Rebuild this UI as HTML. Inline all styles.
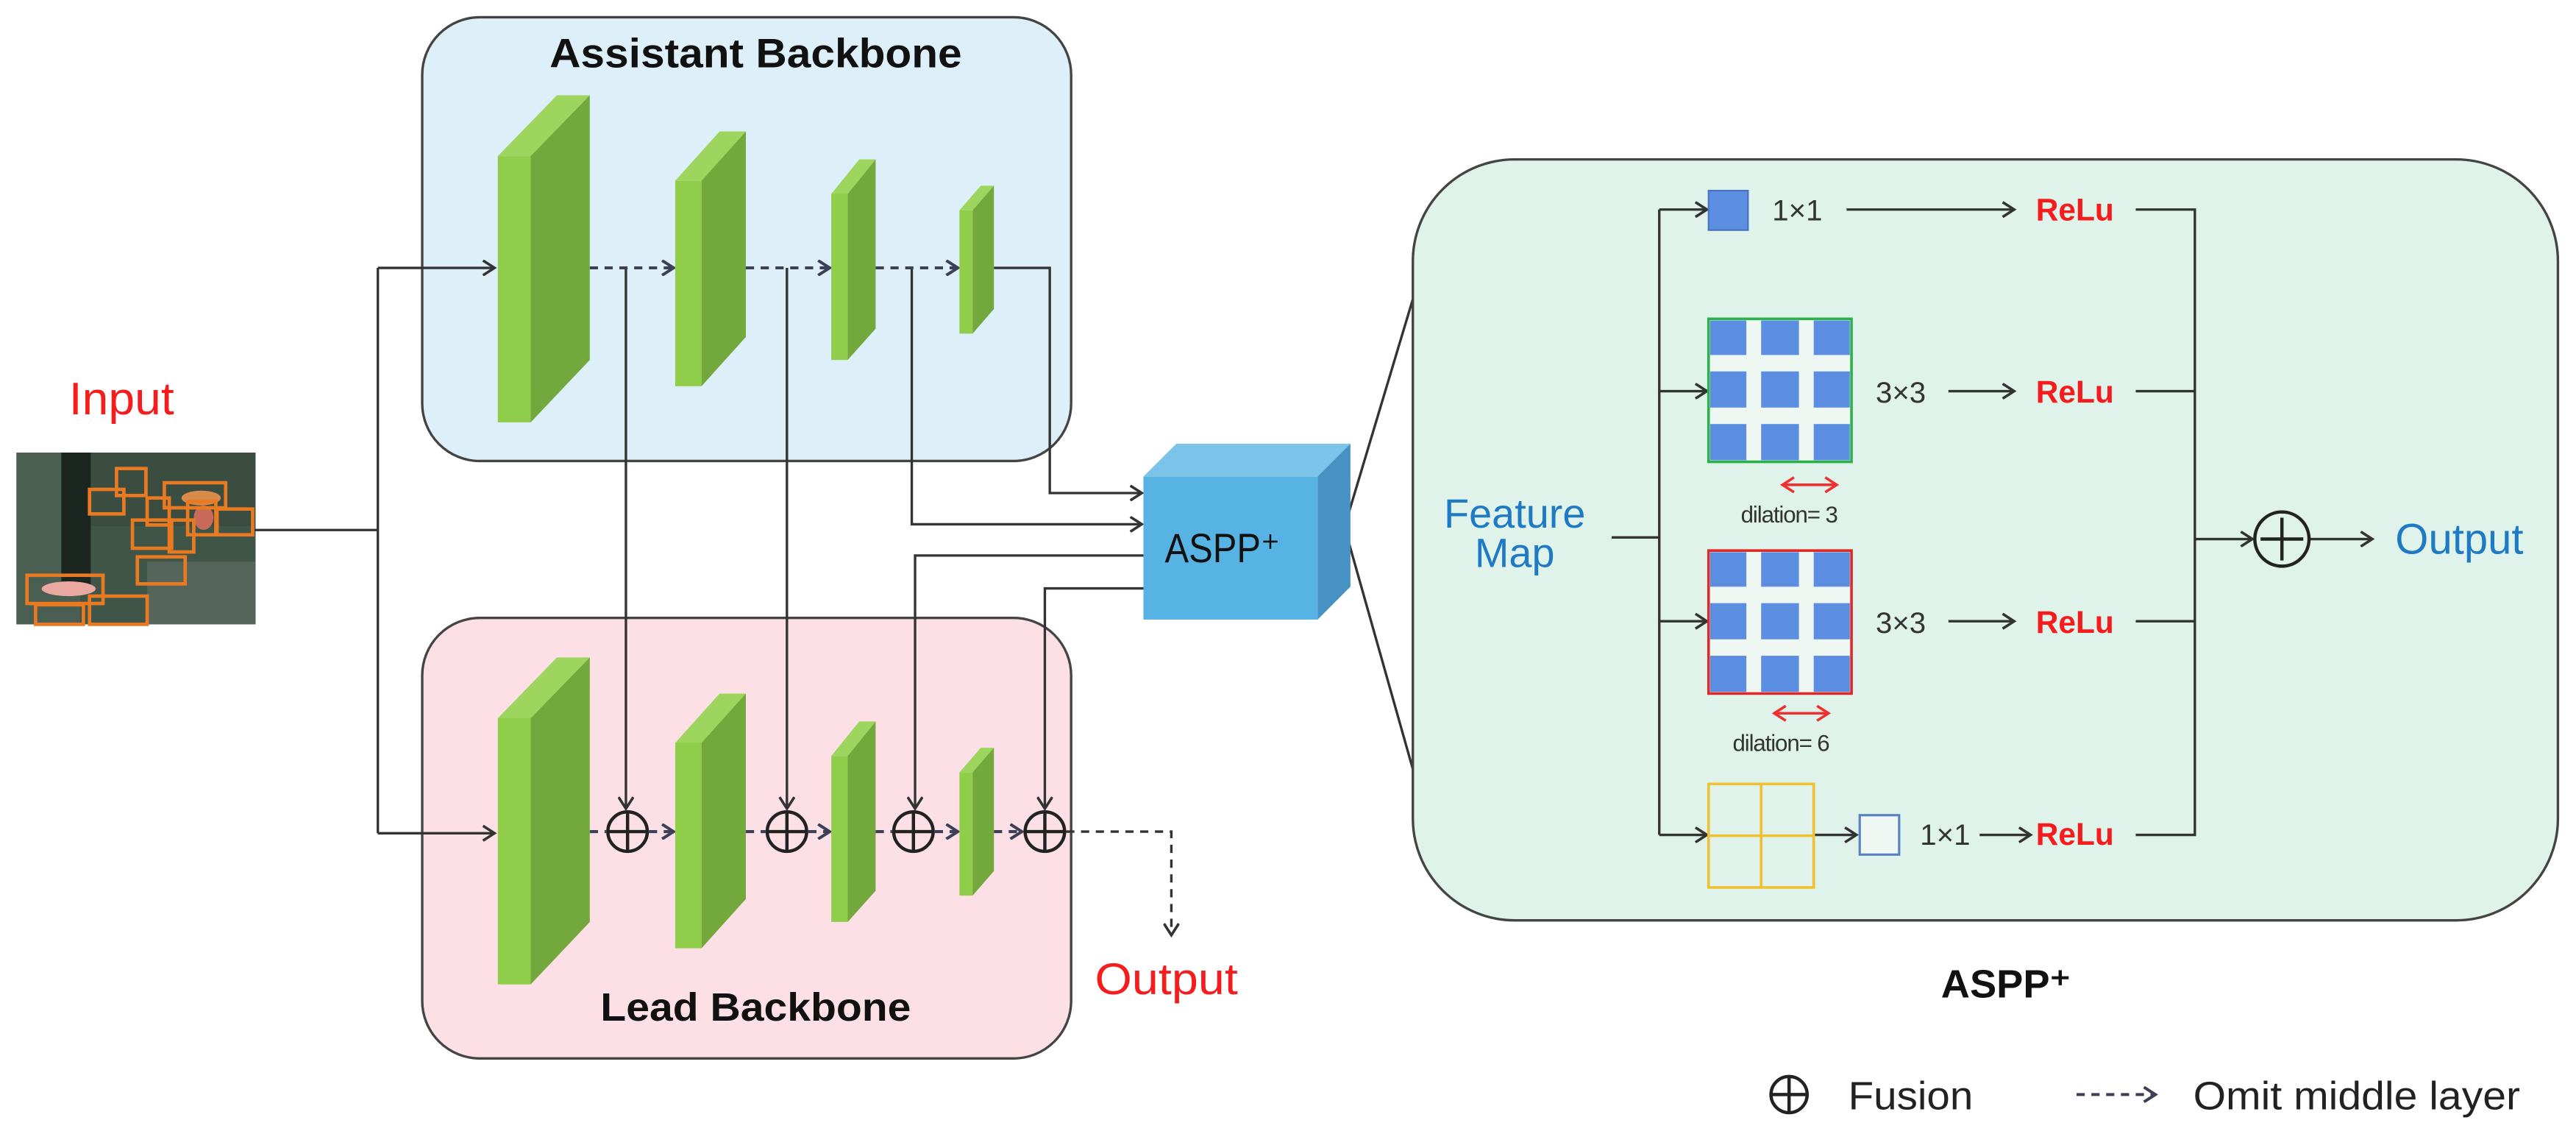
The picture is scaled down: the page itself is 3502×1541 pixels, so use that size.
<!DOCTYPE html>
<html><head><meta charset="utf-8"><style>html,body{margin:0;padding:0;background:#fff}svg{display:block}</style></head>
<body>
<svg width="3502" height="1541" viewBox="0 0 1568 690" preserveAspectRatio="none" xmlns="http://www.w3.org/2000/svg" font-family="Liberation Sans, Arial, sans-serif">
<defs>
<marker id="ah" markerWidth="10" markerHeight="10" refX="8" refY="5" orient="auto" markerUnits="userSpaceOnUse">
<path d="M1,0.5 L8,5 L1,9.5" fill="none" stroke="#333" stroke-width="1.6"/></marker>
<marker id="ahd" markerWidth="10" markerHeight="10" refX="8" refY="5" orient="auto" markerUnits="userSpaceOnUse">
<path d="M1,0.5 L8,5 L1,9.5" fill="none" stroke="#3c3f55" stroke-width="1.8"/></marker>
<marker id="ar" markerWidth="10" markerHeight="10" refX="8" refY="5" orient="auto-start-reverse" markerUnits="userSpaceOnUse">
<path d="M1,0.5 L8,5 L1,9.5" fill="none" stroke="#f03030" stroke-width="1.6"/></marker>
</defs>

<!-- backbone boxes -->
<rect x="257" y="10.5" width="395" height="270" rx="35" fill="#ddeff9" stroke="#444" stroke-width="1.5"/>
<rect x="257" y="376" width="395" height="268" rx="35" fill="#fde0e5" stroke="#444" stroke-width="1.5"/>
<text x="460" y="41" font-size="25" font-weight="bold" text-anchor="middle" textLength="251" lengthAdjust="spacingAndGlyphs" fill="#111">Assistant  Backbone</text>
<text x="460" y="621" font-size="24" font-weight="bold" text-anchor="middle" textLength="189" lengthAdjust="spacingAndGlyphs" fill="#111">Lead Backbone</text>

<!-- input image -->
<text x="74" y="252" font-size="28" fill="#f41c1c" text-anchor="middle" textLength="64" lengthAdjust="spacingAndGlyphs">Input</text>
<g transform="translate(0,259.7) scale(0.1493)">
<rect x="67" y="105" width="975" height="700" fill="#3e5548"/>
<rect x="67" y="105" width="260" height="700" fill="#4a5e52"/>
<rect x="250" y="105" width="120" height="550" fill="#1b2620"/>
<rect x="370" y="105" width="670" height="300" fill="#3a4d40"/>
<rect x="600" y="550" width="440" height="255" fill="#55655c"/>
<ellipse cx="280" cy="660" rx="110" ry="30" fill="#e9a8a0"/>
<ellipse cx="820" cy="290" rx="80" ry="30" fill="#d88a4a"/>
<ellipse cx="830" cy="370" rx="40" ry="50" fill="#c86a5a"/>
<g fill="none" stroke="#ea7a22" stroke-width="14">
<rect x="475" y="170" width="120" height="110"/><rect x="365" y="255" width="140" height="100"/>
<rect x="670" y="228" width="250" height="102"/><rect x="765" y="305" width="115" height="135"/>
<rect x="885" y="335" width="145" height="105"/><rect x="540" y="380" width="160" height="115"/>
<rect x="690" y="380" width="100" height="130"/><rect x="560" y="530" width="195" height="110"/>
<rect x="110" y="605" width="310" height="115"/><rect x="145" y="725" width="195" height="80"/>
<rect x="365" y="690" width="235" height="115"/><rect x="600" y="290" width="90" height="110"/>
</g></g>

<!-- connectors left -->
<g fill="none" stroke="#333" stroke-width="1.5">
<path d="M155,322.5 H230"/>
<path d="M230,163 V507"/>
<path d="M230,163 H301" marker-end="url(#ah)"/>
<path d="M230,507 H301" marker-end="url(#ah)"/>
<!-- verticals to lead -->
<path d="M381,163 V492" marker-end="url(#ah)"/>
<path d="M479,163 V492" marker-end="url(#ah)"/>
<path d="M555,163 V319 H695" marker-end="url(#ah)"/>
<path d="M605,163 H639 V300 H695" marker-end="url(#ah)"/>
<path d="M697,338 H557 V492" marker-end="url(#ah)"/>
<path d="M697,358 H636 V492" marker-end="url(#ah)"/>
<!-- cube to panel -->
<path d="M821,312 L860,182"/>
<path d="M821,330 L860,468"/>
</g>
<!-- dashed connectors -->
<g fill="none" stroke="#3c3f55" stroke-width="1.8" stroke-dasharray="5,4">
<path d="M359,163 H410" marker-end="url(#ahd)"/>
<path d="M454,163 H505" marker-end="url(#ahd)"/>
<path d="M533,163 H583" marker-end="url(#ahd)"/>
<path d="M359,506 H369"/>
<path d="M395,506 H410" marker-end="url(#ahd)"/>
<path d="M454,506 H466"/>
<path d="M492,506 H505" marker-end="url(#ahd)"/>
<path d="M533,506 H543"/>
<path d="M569,506 H583" marker-end="url(#ahd)"/>
<path d="M605,506 H622" marker-end="url(#ahd)"/>
</g>
<g fill="none" stroke="#333" stroke-width="1.5" stroke-dasharray="5,4">
<path d="M649,506 H713 V569" marker-end="url(#ah)"/>
</g>
<!-- fusion circles -->
<g fill="none" stroke="#222" stroke-width="2">
<circle cx="382" cy="506" r="12"/><path d="M370,506 H394 M382,494 V518"/>
<circle cx="479" cy="506" r="12"/><path d="M467,506 H491 M479,494 V518"/>
<circle cx="556" cy="506" r="12"/><path d="M544,506 H568 M556,494 V518"/>
<circle cx="636" cy="506" r="12"/><path d="M624,506 H648 M636,494 V518"/>
</g>
<text x="710" y="605" font-size="27" fill="#f41c1c" text-anchor="middle" textLength="87" lengthAdjust="spacingAndGlyphs">Output</text>

<!-- green blocks -->
<g id="blocks">
<polygon points="303,95 323,95 323,257 303,257" fill="#8fcd4b"/>
<polygon points="303,95 339,58 359,58 323,95" fill="#9ed55e"/>
<polygon points="323,95 359,58 359,219 323,257" fill="#72a83c"/>
<polygon points="411,110 427,110 427,235 411,235" fill="#8fcd4b"/>
<polygon points="411,110 438,80 454,80 427,110" fill="#9ed55e"/>
<polygon points="427,110 454,80 454,205 427,235" fill="#72a83c"/>
<polygon points="506,118 516,118 516,219 506,219" fill="#8fcd4b"/>
<polygon points="506,118 523,97 533,97 516,118" fill="#9ed55e"/>
<polygon points="516,118 533,97 533,200 516,219" fill="#72a83c"/>
<polygon points="584,128 592,128 592,203 584,203" fill="#8fcd4b"/>
<polygon points="584,128 597,113 605,113 592,128" fill="#9ed55e"/>
<polygon points="592,128 605,113 605,188 592,203" fill="#72a83c"/>
</g>
<use href="#blocks" transform="translate(0,342)"/>

<!-- ASPP cube -->
<polygon points="696,290 716,270 822,270 802,290" fill="#7cc3e9"/>
<polygon points="802,290 822,270 822,357 802,377" fill="#4693c3"/>
<rect x="696" y="290" width="106" height="87" fill="#56b3e3"/>
<text x="744" y="342" font-size="25" text-anchor="middle" fill="#111" textLength="70" lengthAdjust="spacingAndGlyphs">ASPP⁺</text>

<!-- ASPP panel -->
<rect x="860" y="97" width="697" height="463" rx="62" fill="#dff3ea" stroke="#444" stroke-width="1.5"/>
<text x="922" y="321" font-size="25" fill="#1f7ac6" text-anchor="middle">Feature</text>
<text x="922" y="345" font-size="25" fill="#1f7ac6" text-anchor="middle">Map</text>
<g fill="none" stroke="#333" stroke-width="1.5">
<path d="M981,327 H1010"/>
<path d="M1010,127.5 V508"/>
<path d="M1010,127.5 H1039" marker-end="url(#ah)"/>
<path d="M1010,238 H1039" marker-end="url(#ah)"/>
<path d="M1010,378 H1039" marker-end="url(#ah)"/>
<path d="M1010,508 H1039" marker-end="url(#ah)"/>
<path d="M1124,127.5 H1226" marker-end="url(#ah)"/>
<path d="M1186,238 H1226" marker-end="url(#ah)"/>
<path d="M1186,378 H1226" marker-end="url(#ah)"/>
<path d="M1104,508 H1130" marker-end="url(#ah)"/>
<path d="M1205,508 H1236" marker-end="url(#ah)"/>
<path d="M1300,127.5 H1336 V508 H1300"/>
<path d="M1300,238 H1336 M1300,378 H1336"/>
<path d="M1336,328 H1371" marker-end="url(#ah)"/>
<path d="M1406,328 H1444" marker-end="url(#ah)"/>
</g>
<circle cx="1389" cy="328" r="16.5" fill="none" stroke="#222" stroke-width="2"/>
<path d="M1376,328 H1402 M1389,315 V341" stroke="#222" stroke-width="2"/>
<text x="1497" y="337" font-size="26" fill="#1f7ac6" text-anchor="middle" textLength="78" lengthAdjust="spacingAndGlyphs">Output</text>

<rect x="1040" y="116" width="24" height="24" fill="#5b8ee0" stroke="#4a74c0" stroke-width="1"/>
<text x="1094" y="134" font-size="18" fill="#333" text-anchor="middle">1×1</text>
<!-- grid 1 -->
<g>
<rect x="1040" y="194" width="87" height="87" fill="#eef7f2" stroke="#2ab24a" stroke-width="1.6"/>
<g fill="#5b8ee0">
<rect x="1041" y="195" width="22" height="21"/><rect x="1072" y="195" width="23" height="21"/><rect x="1104" y="195" width="22" height="21"/>
<rect x="1041" y="226" width="22" height="22"/><rect x="1072" y="226" width="23" height="22"/><rect x="1104" y="226" width="22" height="22"/>
<rect x="1041" y="258" width="22" height="22"/><rect x="1072" y="258" width="23" height="22"/><rect x="1104" y="258" width="22" height="22"/>
</g></g>
<g transform="translate(0,141)">
<rect x="1040" y="194" width="87" height="87" fill="#eef7f2" stroke="#e02828" stroke-width="1.6"/>
<g fill="#5b8ee0">
<rect x="1041" y="195" width="22" height="21"/><rect x="1072" y="195" width="23" height="21"/><rect x="1104" y="195" width="22" height="21"/>
<rect x="1041" y="226" width="22" height="22"/><rect x="1072" y="226" width="23" height="22"/><rect x="1104" y="226" width="22" height="22"/>
<rect x="1041" y="258" width="22" height="22"/><rect x="1072" y="258" width="23" height="22"/><rect x="1104" y="258" width="22" height="22"/>
</g></g>
<text x="1157" y="245" font-size="18" fill="#333" text-anchor="middle">3×3</text>
<text x="1157" y="385" font-size="18" fill="#333" text-anchor="middle">3×3</text>
<path d="M1085,295 H1118" stroke="#f03030" stroke-width="1.6" marker-start="url(#ar)" marker-end="url(#ar)" fill="none"/>
<path d="M1080,434 H1113" stroke="#f03030" stroke-width="1.6" marker-start="url(#ar)" marker-end="url(#ar)" fill="none"/>
<text x="1089" y="318" font-size="14" fill="#333" text-anchor="middle" letter-spacing="-0.5">dilation= 3</text>
<text x="1084" y="457" font-size="14" fill="#333" text-anchor="middle" letter-spacing="-0.5">dilation= 6</text>
<!-- yellow grid -->
<rect x="1040" y="477" width="64" height="63" fill="none" stroke="#f0c030" stroke-width="1.6"/>
<path d="M1072,477 V540 M1040,508.5 H1104" stroke="#f0c030" stroke-width="1.6"/>
<rect x="1132" y="496" width="24" height="24" fill="#eef7f2" stroke="#5a80c0" stroke-width="1.4"/>
<text x="1184" y="514" font-size="18" fill="#333" text-anchor="middle">1×1</text>

<g font-size="19" font-weight="bold" fill="#f41c1c" text-anchor="middle">
<text x="1263" y="134">ReLu</text><text x="1263" y="245">ReLu</text><text x="1263" y="385">ReLu</text><text x="1263" y="514">ReLu</text>
</g>
<text x="1221" y="607" font-size="24" font-weight="bold" fill="#111" text-anchor="middle" textLength="79" lengthAdjust="spacingAndGlyphs">ASPP⁺</text>

<!-- legend -->
<circle cx="1089" cy="666" r="11" fill="none" stroke="#222" stroke-width="2"/>
<path d="M1078,666 H1100 M1089,655 V677" stroke="#222" stroke-width="2"/>
<text x="1125" y="675" font-size="24" fill="#222" textLength="76" lengthAdjust="spacingAndGlyphs">Fusion</text>
<path d="M1264,666 H1312" stroke="#3c3f55" stroke-width="1.8" stroke-dasharray="5,4" fill="none" marker-end="url(#ahd)"/>
<text x="1335" y="675" font-size="24" fill="#222" textLength="199" lengthAdjust="spacingAndGlyphs">Omit middle layer</text>
</svg>
</body></html>
